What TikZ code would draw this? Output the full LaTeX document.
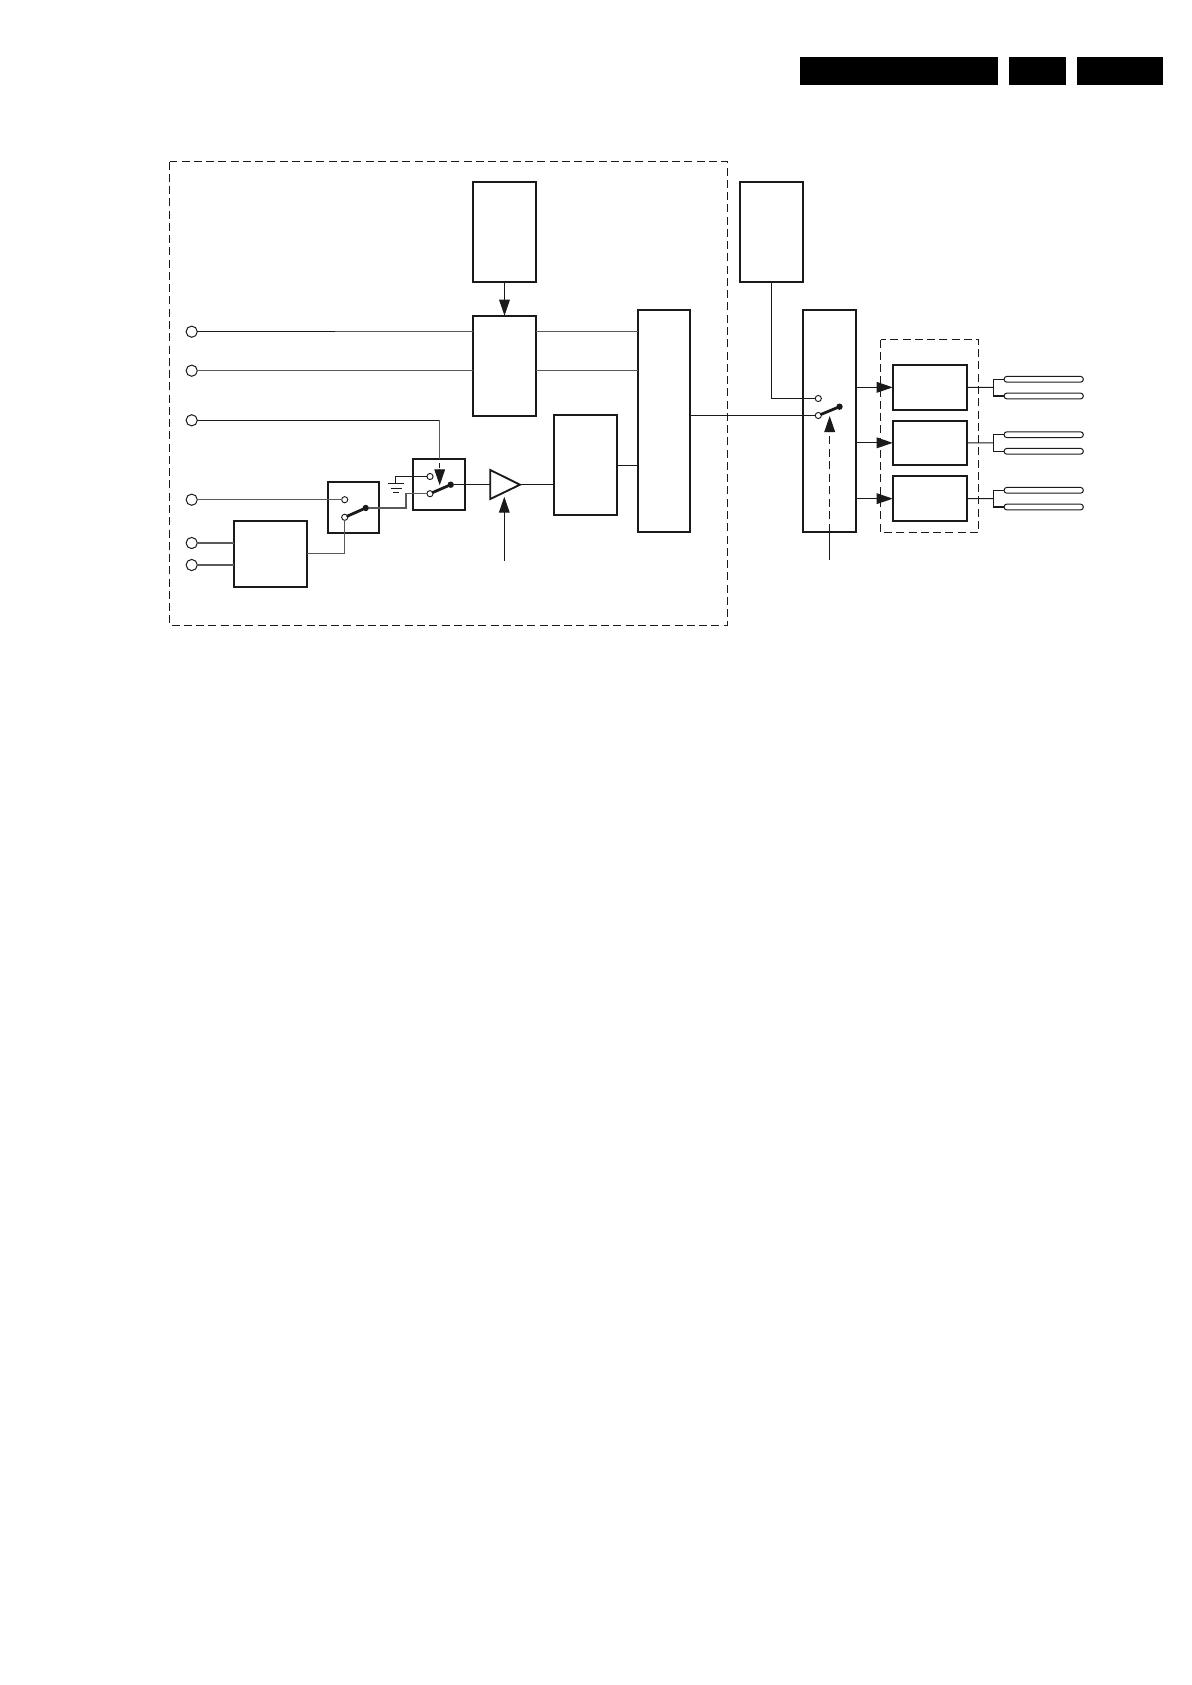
\documentclass[tikz,border=0pt]{standalone}
\usetikzlibrary{arrows.meta,calc}
\definecolor{ink}{HTML}{1A1A1A}
\definecolor{wire}{HTML}{5A5A5A}
\newcommand{\blk}[5]{%
  \pgfmathsetlengthmacro{\blkw}{(#4-#2)*0.75pt}%
  \pgfmathsetlengthmacro{\blkh}{(#5-#3)*0.75pt}%
  \node[blockbox,minimum width=\blkw,minimum height=\blkh] (#1) at ({(#2+#4)/2},{(#3+#5)/2}) {};}
\tikzset{
  x=0.75pt,y=-0.75pt,
  blockbox/.style={draw=ink,line width=1.3pt,inner sep=0pt,outer sep=0pt,rectangle},
  zone/.style={draw=ink,line width=0.8pt,dash pattern=on 6pt off 3.2pt},
  line/.style={draw=ink,line width=0.8pt},
  grayline/.style={draw=wire,line width=0.95pt},
  arrowline/.style={line,-{Triangle[length=12pt,width=8pt,color=ink]}},
  dasharrow/.style={line,dash pattern=on 6pt off 3.4pt,-{Triangle[length=12pt,width=8pt,color=ink]}},
  terminal/.style={circle,draw=ink,line width=0.75pt,fill=white,inner sep=0pt,outer sep=0pt,minimum size=8.4pt},
  contact/.style={circle,draw=ink,line width=0.7pt,fill=white,inner sep=0pt,outer sep=0pt,minimum size=4.6pt},
  arm/.style={draw=ink,line width=2.1pt,line cap=round},
  armdot/.style={circle,fill=ink,inner sep=0pt,outer sep=0pt,minimum size=4.8pt},
  lamp/.style={rectangle,draw=ink,line width=0.75pt,rounded corners=2.2pt,inner sep=0pt,outer sep=0pt,minimum width=59.5pt,minimum height=4.4pt},
  headbar/.style={fill=black,draw=none}
}
\begin{document}
\begin{tikzpicture}
\useasboundingbox (0,0) rectangle (1192,1685);
\fill[white] (0,0) rectangle (1192,1685);

% header bars
\fill[headbar] (800,57) rectangle (998,85);
\fill[headbar] (1009,57) rectangle (1066,85);
\fill[headbar] (1077,57) rectangle (1163,85);

% dashed zones
\draw[zone] (169.5,161.5) rectangle (727.5,625.5);
\draw[zone] (880.5,339.5) rectangle (978.7,532.3);

% blocks
\blk{srcA}{472.7}{181.7}{536.3}{282}
\blk{mixB}{472.7}{315.7}{536.3}{416}
\blk{srcR}{739.7}{181.7}{803.3}{282}
\blk{tallC}{638}{310}{690}{532}
\blk{tallD}{803}{310}{856}{532}
\blk{boxE}{553.7}{414.7}{617.3}{515}
\blk{swF}{327.7}{481.7}{379}{533}
\blk{swG}{413}{458.7}{465}{510}
\blk{boxH}{233.7}{520.7}{307}{587}
\blk{outA}{892.7}{364.7}{967}{410}
\blk{outB}{892.7}{420.7}{967}{465}
\blk{outC}{892.7}{476.3}{967}{521}

% terminals
\node[terminal] (t1) at (191.7,331.7) {};
\node[terminal] (t2) at (191.7,370.7) {};
\node[terminal] (t3) at (191.7,420.3) {};
\node[terminal] (t4) at (191.7,499.7) {};
\node[terminal] (t5) at (191.7,543) {};
\node[terminal] (t6) at (191.7,565) {};

% switch contacts
\node[contact] (fa) at (344.7,499.7) {};
\node[contact] (fb) at (344.7,517.3) {};
\node[armdot] (fe) at (365.7,508) {};
\node[contact] (ga) at (430,476.5) {};
\node[contact] (gb) at (430,493.7) {};
\node[armdot] (ge) at (450.7,484.7) {};
\node[contact] (da) at (818.3,398.5) {};
\node[contact] (db) at (818.3,415.5) {};
\node[armdot] (de) at (839.5,406.7) {};

% switch arms
\draw[arm] (fb) -- (fe);
\draw[arm] (gb) -- (ge);
\draw[arm] (db) -- (de);

% amplifier
\coordinate (ampN) at (490.3,470);
\coordinate (ampS) at (490.3,499);
\coordinate (ampT) at (520,484.7);
\coordinate (ampW) at (490.3,484.7);
\draw[draw=ink,line width=1.4pt,line join=miter] (ampN) -- (ampT) -- (ampS) -- cycle;

% input wires
\coordinate (t1mid) at (335,331.7);
\draw[line] (t1) -- (t1mid);
\draw[grayline] (t1mid) -- (mixB.west |- t1);
\draw[grayline] (t2) -- (mixB.west |- t2);
\draw[grayline] (mixB.east |- t1) -- (tallC.west |- t1);
\draw[grayline] (mixB.east |- t2) -- (tallC.west |- t2);
\draw[arrowline] (srcA.south) -- (mixB.north);

\coordinate (gctl) at (439.7,420.3);
\draw[line] (t3) -- (gctl);
\draw[grayline] (gctl) -- (swG.north -| gctl);
\coordinate (gdash) at (439.7,463);
\coordinate (gtip) at (439.7,485.3);
\draw[line] (gdash) -- (439.7,468);
\draw[arrowline] (439.7,469) -- (gtip);

\draw[grayline] (t4) -- (fa);
\draw[grayline] (t5) -- (boxH.west |- t5);
\draw[grayline] (t6) -- (boxH.west |- t6);
\draw[grayline] (boxH.east) -| (fb);
\draw[grayline] (fe) -| (406,493.7) -- (gb);

% ground
\coordinate (gnd) at (395.3,483.5);
\draw[line] (ga) -| (gnd);
\draw[line] (388.3,483.5) -- (404,483.5);
\draw[line] (390.5,488.5) -- (401.5,488.5);
\draw[line] (393,492.7) -- (399,492.7);

% amplifier wiring
\draw[line] (ge) -- (ampW);
\draw[line] (ampT) -- (boxE.west |- ampT);
\coordinate (ampCtl) at (504.3,560.7);
\draw[arrowline] (ampCtl) -- (504.3,496.7);
\draw[line] (boxE.east |- 0,465.3) -- (tallC.west |- 0,465.3);

% to right side
\draw[line] (tallC.east |- db) -- (db);
\draw[line] (srcR.south) |- (da);

% right switch control
\coordinate (dctl) at (829.7,560);
\draw[line] (dctl) -- (tallD.south -| dctl);
\draw[dasharrow] (tallD.south -| dctl) -- (829.7,416);

% outputs of D
\draw[arrowline] (tallD.east |- outA.west) -- (outA.west);
\draw[arrowline] (tallD.east |- outB.west) -- (outB.west);
\draw[arrowline] (tallD.east |- outC.west) -- (outC.west);

% lamps
\node[lamp,fill=white] (la1) at (1043.7,379.3) {};
\node[lamp,fill=white] (la2) at (1043.7,396) {};
\node[lamp,fill=white] (lb1) at (1043.7,434.7) {};
\node[lamp,fill=white] (lb2) at (1043.7,451.3) {};
\node[lamp,fill=white] (lc1) at (1043.7,490.3) {};
\node[lamp,fill=white] (lc2) at (1043.7,507) {};

\coordinate (fka) at (993.3,387.3);
\coordinate (fkb) at (993.3,442.8);
\coordinate (fkc) at (993.3,498.6);
\draw[line] (outA.east) -- (fka);
\draw[line] (outB.east) -- (fkb);
\draw[line] (outC.east) -- (fkc);
\draw[line] (la1.west) -| (fka) |- (la2.west);
\draw[line] (lb1.west) -| (fkb) |- (lb2.west);
\draw[line] (lc1.west) -| (fkc) |- (lc2.west);
\end{tikzpicture}
\end{document}
